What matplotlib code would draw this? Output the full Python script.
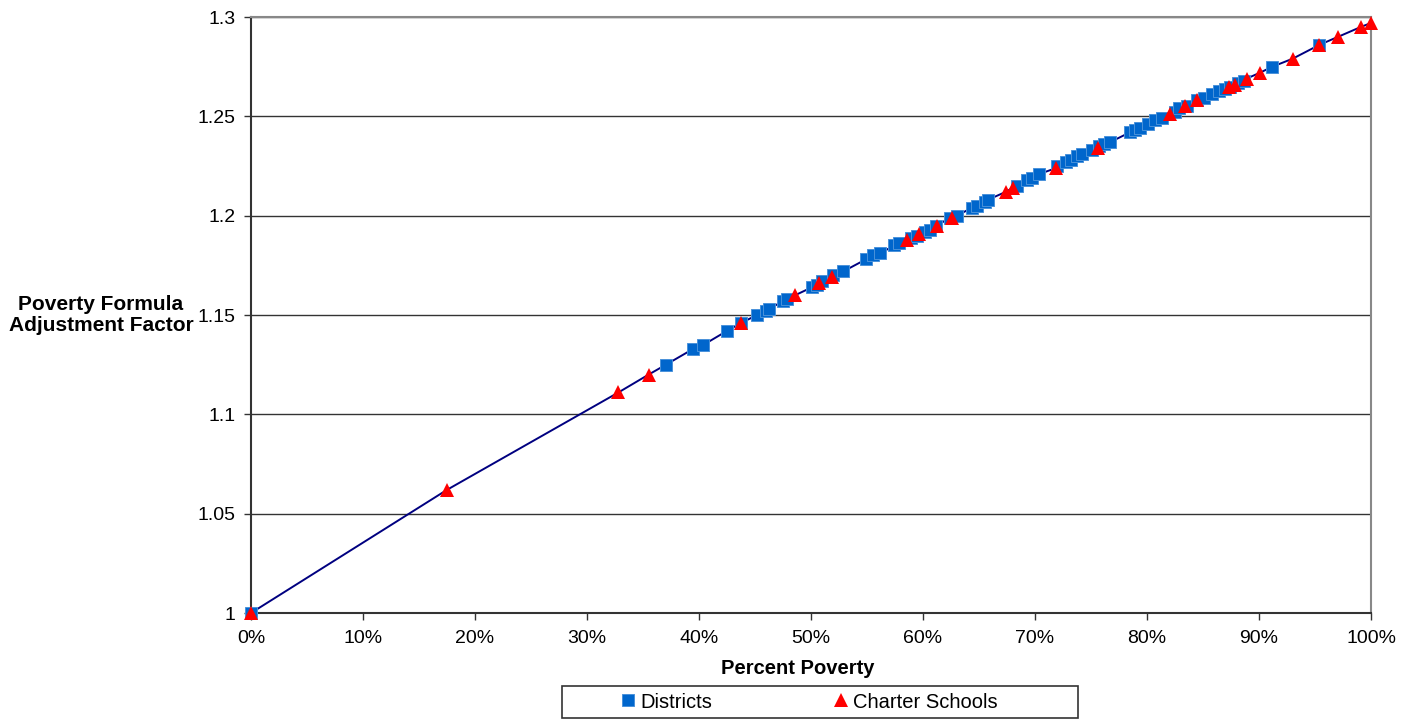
import matplotlib
matplotlib.use("Agg")
import matplotlib.pyplot as plt
from matplotlib.patches import Rectangle
from matplotlib.ticker import FuncFormatter

plt.rcParams['font.family'] = ['Liberation Sans', 'DejaVu Sans']

# Districts: percent poverty vs adjustment factor
district_pct = [0.0, 37.05, 39.5, 40.4, 42.5, 43.75, 45.2, 46.0, 46.25, 47.5, 47.9,
                50.1, 50.5, 51.0, 52.0, 52.9, 54.9, 55.5, 56.2, 57.4, 57.9,
                58.9, 59.5, 60.2, 60.6, 61.2, 62.4, 63.0, 64.4, 64.8, 65.5, 65.8,
                68.4, 69.3, 69.7, 70.4, 72.0, 72.8, 73.2, 73.75, 74.2, 75.1,
                75.7, 76.2, 76.7, 78.5, 78.9, 79.4, 80.1, 80.7, 81.3, 82.5,
                82.9, 83.6, 84.5, 85.1, 85.8, 86.4, 87.0, 87.4, 88.1, 88.7,
                91.2, 95.4]
district_factor = [1.000, 1.125, 1.133, 1.135, 1.142, 1.146, 1.150, 1.152, 1.153, 1.157, 1.158,
                   1.164, 1.165, 1.167, 1.170, 1.172, 1.178, 1.180, 1.181, 1.185, 1.186,
                   1.189, 1.190, 1.192, 1.193, 1.195, 1.199, 1.200, 1.204, 1.205, 1.207, 1.208,
                   1.215, 1.218, 1.219, 1.221, 1.225, 1.227, 1.228, 1.230, 1.231, 1.233,
                   1.235, 1.236, 1.237, 1.242, 1.243, 1.244, 1.246, 1.248, 1.249, 1.252,
                   1.254, 1.255, 1.258, 1.259, 1.261, 1.263, 1.264, 1.265, 1.267, 1.268,
                   1.275, 1.286]

# Charter schools
charter_pct = [0.0, 17.5, 32.8, 35.5, 43.75, 48.6, 50.7, 51.9, 58.6, 59.6, 61.25,
               62.6, 67.4, 68.0, 71.9, 75.6, 82.05, 83.4, 84.5, 87.3, 87.9,
               88.9, 90.1, 93.0, 95.4, 97.05, 99.1, 100.0]
charter_factor = [1.000, 1.062, 1.111, 1.120, 1.146, 1.160, 1.166, 1.169, 1.188, 1.191, 1.195,
                  1.199, 1.212, 1.214, 1.224, 1.234, 1.251, 1.255, 1.258, 1.265, 1.266,
                  1.269, 1.272, 1.279, 1.286, 1.290, 1.295, 1.297]

y_ticks = [1.0, 1.05, 1.1, 1.15, 1.2, 1.25, 1.3]
y_tick_labels = ['1', '1.05', '1.1', '1.15', '1.2', '1.25', '1.3']
x_ticks = list(range(0, 101, 10))

fig = plt.figure(figsize=(14.19, 7.19), dpi=100)
ax = fig.add_axes([251 / 1419, 1 - 613 / 719, 1120 / 1419, 596 / 719])

# curve through all points
pts = sorted(zip(district_pct + charter_pct, district_factor + charter_factor))
ax.plot([p[0] for p in pts], [p[1] for p in pts], color='#000080', lw=1.4, zorder=2)

ax.plot(district_pct, district_factor, linestyle='none', marker='s', ms=9,
        color='#0066CC', mec='#4a92da', mew=0.7, zorder=3, label='Districts',
        clip_on=False)
ax.plot(charter_pct, charter_factor, linestyle='none', marker='^', ms=10.5,
        color='#FF0000', mew=0, zorder=4, label='Charter Schools', clip_on=False)

ax.set_xlim(0, 100)
ax.set_ylim(1.0, 1.3)
ax.set_xticks(x_ticks)
ax.xaxis.set_major_formatter(FuncFormatter(lambda v, p: f'{int(v)}%'))
ax.set_yticks(y_ticks)
ax.set_yticklabels(y_tick_labels)
ax.tick_params(axis='both', direction='out', length=5, width=1, colors='#333333',
               labelsize=14, labelcolor='black')
ax.tick_params(axis='x', pad=7)
ax.tick_params(axis='y', pad=6)

ax.yaxis.grid(True, color='#333333', lw=1)
ax.set_axisbelow(True)
for side in ['left', 'bottom']:
    ax.spines[side].set_color('#333333')
    ax.spines[side].set_linewidth(1.5)
for side in ['top', 'right']:
    ax.spines[side].set_color('#888888')
    ax.spines[side].set_linewidth(1.5)

fig.text(101 / 1419, 1 - 315 / 719, 'Poverty Formula\nAdjustment Factor',
         ha='center', va='center', multialignment='center',
         fontsize=15, fontweight='bold', linespacing=1.1)
fig.text(798 / 1419, 1 - 668 / 719, 'Percent Poverty', ha='center', va='center',
         fontsize=14.5, fontweight='bold')

# legend box
fig.patches.append(Rectangle((562 / 1419, 1 - 718 / 719), 516 / 1419, 32 / 719,
                             transform=fig.transFigure, fill=False,
                             edgecolor='#333333', lw=1.2))
fig.legend(loc='center', bbox_to_anchor=(809 / 1419, 1 - 702 / 719), ncol=2,
           frameon=False, fontsize=14.5, columnspacing=6.0, handletextpad=0.2,
           handlelength=0.8, borderpad=0.2, markerscale=1.0)

fig.savefig('out.png', dpi=100)
